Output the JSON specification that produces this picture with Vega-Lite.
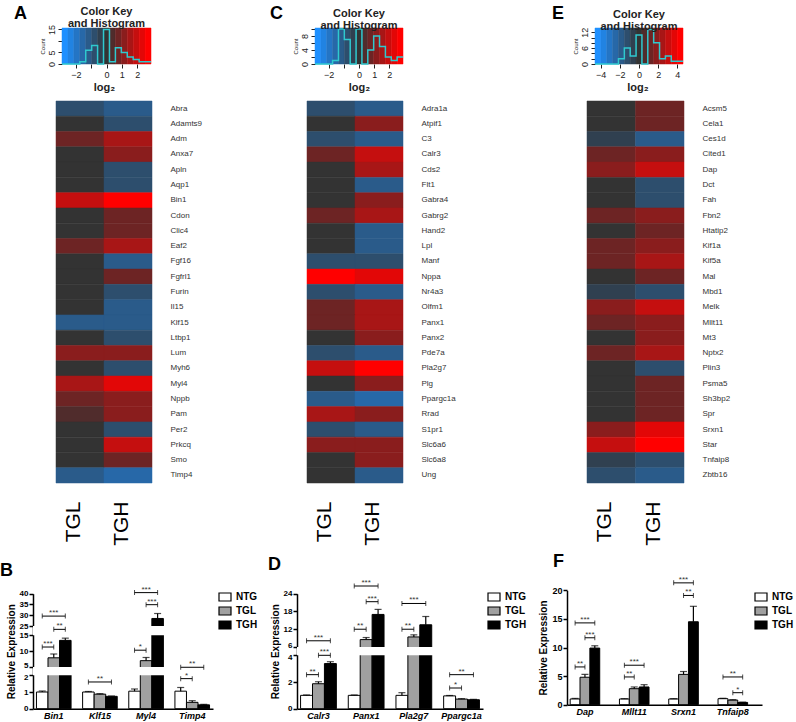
{
"$schema":"https://vega.github.io/schema/vega-lite/v6.json",
"padding":{"left":0,"top":4,"right":0,"bottom":0},
"background":"white",
"config":{"view":{"stroke":null},"font":"Liberation Sans","axis":{"grid":false,"labelOverlap":false}},
"datasets":{
"keyAC":[{"x0":-2.9,"x1":-2.513,"mid":-2.71},{"x0":-2.513,"x1":-2.127,"mid":-2.32},{"x0":-2.127,"x1":-1.74,"mid":-1.93},{"x0":-1.74,"x1":-1.353,"mid":-1.55},{"x0":-1.353,"x1":-0.967,"mid":-1.16},{"x0":-0.967,"x1":-0.58,"mid":-0.77},{"x0":-0.58,"x1":-0.193,"mid":-0.39},{"x0":-0.193,"x1":0.193,"mid":0},{"x0":0.193,"x1":0.58,"mid":0.39},{"x0":0.58,"x1":0.967,"mid":0.77},{"x0":0.967,"x1":1.353,"mid":1.16},{"x0":1.353,"x1":1.74,"mid":1.55},{"x0":1.74,"x1":2.127,"mid":1.93},{"x0":2.127,"x1":2.513,"mid":2.32},{"x0":2.513,"x1":2.9,"mid":2.71}],
"keyE":[{"x0":-4.6,"x1":-3.987,"mid":-4.29},{"x0":-3.987,"x1":-3.373,"mid":-3.68},{"x0":-3.373,"x1":-2.76,"mid":-3.07},{"x0":-2.76,"x1":-2.147,"mid":-2.45},{"x0":-2.147,"x1":-1.533,"mid":-1.84},{"x0":-1.533,"x1":-0.92,"mid":-1.23},{"x0":-0.92,"x1":-0.307,"mid":-0.61},{"x0":-0.307,"x1":0.307,"mid":0},{"x0":0.307,"x1":0.92,"mid":0.61},{"x0":0.92,"x1":1.533,"mid":1.23},{"x0":1.533,"x1":2.147,"mid":1.84},{"x0":2.147,"x1":2.76,"mid":2.45},{"x0":2.76,"x1":3.373,"mid":3.07},{"x0":3.373,"x1":3.987,"mid":3.68},{"x0":3.987,"x1":4.6,"mid":4.29}],
"histA":[{"x":-2.9,"n":0},{"x":-2.513,"n":0},{"x":-2.127,"n":0},{"x":-1.74,"n":1},{"x":-1.353,"n":6},{"x":-0.967,"n":8},{"x":-0.58,"n":0},{"x":-0.193,"n":15},{"x":0.193,"n":1},{"x":0.58,"n":7},{"x":0.967,"n":5},{"x":1.353,"n":3},{"x":1.74,"n":2},{"x":2.127,"n":1},{"x":2.513,"n":1},{"x":2.9,"n":1}],
"histC":[{"x":-2.9,"n":0},{"x":-2.513,"n":0},{"x":-2.127,"n":0},{"x":-1.74,"n":1},{"x":-1.353,"n":10},{"x":-0.967,"n":7},{"x":-0.58,"n":0},{"x":-0.193,"n":10},{"x":0.193,"n":0},{"x":0.58,"n":4},{"x":0.967,"n":8},{"x":1.353,"n":5},{"x":1.74,"n":2},{"x":2.127,"n":1},{"x":2.513,"n":2},{"x":2.9,"n":2}],
"histE":[{"x":-4.6,"n":0},{"x":-3.987,"n":0},{"x":-3.373,"n":0},{"x":-2.76,"n":0},{"x":-2.147,"n":2},{"x":-1.533,"n":6},{"x":-0.92,"n":3},{"x":-0.307,"n":11},{"x":0.307,"n":0},{"x":0.92,"n":13},{"x":1.533,"n":8},{"x":2.147,"n":2},{"x":2.76,"n":3},{"x":3.373,"n":1},{"x":3.987,"n":1},{"x":4.6,"n":1}],
"heatA":[{"gene":"Abra","group":"TGL","v":-0.77},{"gene":"Abra","group":"TGH","v":-1.16},{"gene":"Adamts9","group":"TGL","v":0},{"gene":"Adamts9","group":"TGH","v":-0.77},{"gene":"Adm","group":"TGL","v":0.77},{"gene":"Adm","group":"TGH","v":1.55},{"gene":"Anxa7","group":"TGL","v":0},{"gene":"Anxa7","group":"TGH","v":1.16},{"gene":"Apln","group":"TGL","v":0},{"gene":"Apln","group":"TGH","v":-0.77},{"gene":"Aqp1","group":"TGL","v":0},{"gene":"Aqp1","group":"TGH","v":-0.77},{"gene":"Bin1","group":"TGL","v":1.93},{"gene":"Bin1","group":"TGH","v":2.71},{"gene":"Cdon","group":"TGL","v":0},{"gene":"Cdon","group":"TGH","v":0.77},{"gene":"Clic4","group":"TGL","v":0},{"gene":"Clic4","group":"TGH","v":0.77},{"gene":"Eaf2","group":"TGL","v":0.77},{"gene":"Eaf2","group":"TGH","v":1.55},{"gene":"Fgf16","group":"TGL","v":0},{"gene":"Fgf16","group":"TGH","v":-1.16},{"gene":"Fgfrl1","group":"TGL","v":0},{"gene":"Fgfrl1","group":"TGH","v":0.77},{"gene":"Furin","group":"TGL","v":0},{"gene":"Furin","group":"TGH","v":-0.77},{"gene":"Il15","group":"TGL","v":0},{"gene":"Il15","group":"TGH","v":-1.16},{"gene":"Klf15","group":"TGL","v":-1.16},{"gene":"Klf15","group":"TGH","v":-1.16},{"gene":"Ltbp1","group":"TGL","v":0},{"gene":"Ltbp1","group":"TGH","v":-0.77},{"gene":"Lum","group":"TGL","v":1.16},{"gene":"Lum","group":"TGH","v":1.16},{"gene":"Myh6","group":"TGL","v":0},{"gene":"Myh6","group":"TGH","v":-0.77},{"gene":"Myl4","group":"TGL","v":1.55},{"gene":"Myl4","group":"TGH","v":2.32},{"gene":"Nppb","group":"TGL","v":0.77},{"gene":"Nppb","group":"TGH","v":1.16},{"gene":"Pam","group":"TGL","v":0.39},{"gene":"Pam","group":"TGH","v":1.16},{"gene":"Per2","group":"TGL","v":0},{"gene":"Per2","group":"TGH","v":-0.77},{"gene":"Prkcq","group":"TGL","v":0},{"gene":"Prkcq","group":"TGH","v":1.93},{"gene":"Smo","group":"TGL","v":0},{"gene":"Smo","group":"TGH","v":0.77},{"gene":"Timp4","group":"TGL","v":-1.16},{"gene":"Timp4","group":"TGH","v":-1.55}],
"heatC":[{"gene":"Adra1a","group":"TGL","v":-0.77},{"gene":"Adra1a","group":"TGH","v":-1.16},{"gene":"Atpif1","group":"TGL","v":0},{"gene":"Atpif1","group":"TGH","v":1.16},{"gene":"C3","group":"TGL","v":-0.77},{"gene":"C3","group":"TGH","v":-1.16},{"gene":"Calr3","group":"TGL","v":0.77},{"gene":"Calr3","group":"TGH","v":1.93},{"gene":"Cds2","group":"TGL","v":0},{"gene":"Cds2","group":"TGH","v":1.55},{"gene":"Flt1","group":"TGL","v":0},{"gene":"Flt1","group":"TGH","v":-1.16},{"gene":"Gabra4","group":"TGL","v":0},{"gene":"Gabra4","group":"TGH","v":1.16},{"gene":"Gabrg2","group":"TGL","v":0.77},{"gene":"Gabrg2","group":"TGH","v":1.55},{"gene":"Hand2","group":"TGL","v":0},{"gene":"Hand2","group":"TGH","v":-1.16},{"gene":"Lpl","group":"TGL","v":0},{"gene":"Lpl","group":"TGH","v":-1.16},{"gene":"Manf","group":"TGL","v":-0.77},{"gene":"Manf","group":"TGH","v":-0.77},{"gene":"Nppa","group":"TGL","v":2.71},{"gene":"Nppa","group":"TGH","v":2.32},{"gene":"Nr4a3","group":"TGL","v":-0.77},{"gene":"Nr4a3","group":"TGH","v":-1.16},{"gene":"Olfm1","group":"TGL","v":0.77},{"gene":"Olfm1","group":"TGH","v":1.55},{"gene":"Panx1","group":"TGL","v":0.77},{"gene":"Panx1","group":"TGH","v":1.55},{"gene":"Panx2","group":"TGL","v":0},{"gene":"Panx2","group":"TGH","v":1.16},{"gene":"Pde7a","group":"TGL","v":-0.77},{"gene":"Pde7a","group":"TGH","v":-1.16},{"gene":"Pla2g7","group":"TGL","v":1.93},{"gene":"Pla2g7","group":"TGH","v":2.71},{"gene":"Plg","group":"TGL","v":0},{"gene":"Plg","group":"TGH","v":1.16},{"gene":"Ppargc1a","group":"TGL","v":-1.16},{"gene":"Ppargc1a","group":"TGH","v":-1.55},{"gene":"Rrad","group":"TGL","v":1.55},{"gene":"Rrad","group":"TGH","v":1.16},{"gene":"S1pr1","group":"TGL","v":-0.77},{"gene":"S1pr1","group":"TGH","v":-1.16},{"gene":"Slc6a6","group":"TGL","v":1.16},{"gene":"Slc6a6","group":"TGH","v":1.16},{"gene":"Slc6a8","group":"TGL","v":0},{"gene":"Slc6a8","group":"TGH","v":1.16},{"gene":"Ung","group":"TGL","v":0},{"gene":"Ung","group":"TGH","v":-1.16}],
"heatE":[{"gene":"Acsm5","group":"TGL","v":0},{"gene":"Acsm5","group":"TGH","v":1.23},{"gene":"Cela1","group":"TGL","v":0},{"gene":"Cela1","group":"TGH","v":1.23},{"gene":"Ces1d","group":"TGL","v":-0.61},{"gene":"Ces1d","group":"TGH","v":-1.84},{"gene":"Cited1","group":"TGL","v":1.23},{"gene":"Cited1","group":"TGH","v":1.84},{"gene":"Dap","group":"TGL","v":1.84},{"gene":"Dap","group":"TGH","v":3.07},{"gene":"Dct","group":"TGL","v":0},{"gene":"Dct","group":"TGH","v":-1.23},{"gene":"Fah","group":"TGL","v":0},{"gene":"Fah","group":"TGH","v":-1.23},{"gene":"Fbn2","group":"TGL","v":1.23},{"gene":"Fbn2","group":"TGH","v":1.84},{"gene":"Htatip2","group":"TGL","v":0},{"gene":"Htatip2","group":"TGH","v":1.23},{"gene":"Kif1a","group":"TGL","v":1.23},{"gene":"Kif1a","group":"TGH","v":1.84},{"gene":"Kif5a","group":"TGL","v":1.23},{"gene":"Kif5a","group":"TGH","v":2.45},{"gene":"Mal","group":"TGL","v":0},{"gene":"Mal","group":"TGH","v":1.23},{"gene":"Mbd1","group":"TGL","v":-0.61},{"gene":"Mbd1","group":"TGH","v":-1.23},{"gene":"Melk","group":"TGL","v":1.84},{"gene":"Melk","group":"TGH","v":3.07},{"gene":"Mllt11","group":"TGL","v":1.23},{"gene":"Mllt11","group":"TGH","v":1.84},{"gene":"Mt3","group":"TGL","v":0},{"gene":"Mt3","group":"TGH","v":1.84},{"gene":"Nptx2","group":"TGL","v":1.23},{"gene":"Nptx2","group":"TGH","v":2.45},{"gene":"Plin3","group":"TGL","v":0},{"gene":"Plin3","group":"TGH","v":-1.23},{"gene":"Psma5","group":"TGL","v":0},{"gene":"Psma5","group":"TGH","v":1.23},{"gene":"Sh3bp2","group":"TGL","v":0},{"gene":"Sh3bp2","group":"TGH","v":1.23},{"gene":"Spr","group":"TGL","v":0},{"gene":"Spr","group":"TGH","v":1.23},{"gene":"Srxn1","group":"TGL","v":1.84},{"gene":"Srxn1","group":"TGH","v":3.68},{"gene":"Star","group":"TGL","v":3.07},{"gene":"Star","group":"TGH","v":4.29},{"gene":"Tnfaip8","group":"TGL","v":-0.61},{"gene":"Tnfaip8","group":"TGH","v":-1.23},{"gene":"Zbtb16","group":"TGL","v":-1.23},{"gene":"Zbtb16","group":"TGH","v":-1.84}],
"barsB":[{"slot":"Bin1|NTG","group":"NTG","value":1.0,"hi":1.06},{"slot":"Bin1|TGL","group":"TGL","value":7.9,"hi":9.1},{"slot":"Bin1|TGH","group":"TGH","value":13.4,"hi":14.1},{"slot":"Klf15|NTG","group":"NTG","value":1.0,"hi":1.03},{"slot":"Klf15|TGL","group":"TGL","value":0.87,"hi":0.9},{"slot":"Klf15|TGH","group":"TGH","value":0.74,"hi":0.76},{"slot":"Myl4|NTG","group":"NTG","value":1.05,"hi":1.18},{"slot":"Myl4|TGL","group":"TGL","value":7.0,"hi":8.0},{"slot":"Myl4|TGH","group":"TGH","value":28.5,"hi":30.8},{"slot":"Timp4|NTG","group":"NTG","value":1.05,"hi":1.27},{"slot":"Timp4|TGL","group":"TGL","value":0.38,"hi":0.48},{"slot":"Timp4|TGH","group":"TGH","value":0.23,"hi":0.26}],
"brB":[{"from":"Bin1|NTG","to":"Bin1|TGL","mid":"Bin1|TGL","span":1,"y":11.3,"label":"***"},{"from":"Bin1|TGL","to":"Bin1|TGH","mid":"Bin1|TGH","span":1,"y":21.4,"label":"**"},{"from":"Bin1|NTG","to":"Bin1|TGH","mid":"Bin1|TGL","span":2,"y":29.6,"label":"***"},{"from":"Klf15|NTG","to":"Klf15|TGH","mid":"Klf15|TGL","span":2,"y":1.6,"label":"**"},{"from":"Myl4|NTG","to":"Myl4|TGL","mid":"Myl4|TGL","span":1,"y":10.3,"label":"*"},{"from":"Myl4|TGL","to":"Myl4|TGH","mid":"Myl4|TGH","span":1,"y":34.9,"label":"***"},{"from":"Myl4|NTG","to":"Myl4|TGH","mid":"Myl4|TGL","span":2,"y":40.5,"label":"***"},{"from":"Timp4|NTG","to":"Timp4|TGL","mid":"Timp4|TGL","span":1,"y":1.8,"label":"*"},{"from":"Timp4|NTG","to":"Timp4|TGH","mid":"Timp4|TGL","span":2,"y":4.9,"label":"**"}],
"gapB":[{"lo":2,"hi":5},{"lo":15,"hi":25}],
"barsD":[{"slot":"Calr3|NTG","group":"NTG","value":1.0,"hi":1.03},{"slot":"Calr3|TGL","group":"TGL","value":1.87,"hi":2.02},{"slot":"Calr3|TGH","group":"TGH","value":3.38,"hi":3.52},{"slot":"Panx1|NTG","group":"NTG","value":1.0,"hi":1.03},{"slot":"Panx1|TGL","group":"TGL","value":8.5,"hi":9.2},{"slot":"Panx1|TGH","group":"TGH","value":17.0,"hi":18.7},{"slot":"Pla2g7|NTG","group":"NTG","value":1.0,"hi":1.2},{"slot":"Pla2g7|TGL","group":"TGL","value":9.4,"hi":10.1},{"slot":"Pla2g7|TGH","group":"TGH","value":13.5,"hi":16.3},{"slot":"Ppargc1a|NTG","group":"NTG","value":0.96,"hi":0.99},{"slot":"Ppargc1a|TGL","group":"TGL","value":0.72,"hi":0.75},{"slot":"Ppargc1a|TGH","group":"TGH","value":0.67,"hi":0.7}],
"brD":[{"from":"Calr3|NTG","to":"Calr3|TGL","mid":"Calr3|TGL","span":1,"y":2.55,"label":"**"},{"from":"Calr3|TGL","to":"Calr3|TGH","mid":"Calr3|TGH","span":1,"y":4.0,"label":"***"},{"from":"Calr3|NTG","to":"Calr3|TGH","mid":"Calr3|TGL","span":2,"y":8.1,"label":"***"},{"from":"Panx1|NTG","to":"Panx1|TGL","mid":"Panx1|TGL","span":1,"y":12,"label":"**"},{"from":"Panx1|TGL","to":"Panx1|TGH","mid":"Panx1|TGH","span":1,"y":21.3,"label":"***"},{"from":"Panx1|NTG","to":"Panx1|TGH","mid":"Panx1|TGL","span":2,"y":26.6,"label":"***"},{"from":"Pla2g7|NTG","to":"Pla2g7|TGL","mid":"Pla2g7|TGL","span":1,"y":12,"label":"**"},{"from":"Pla2g7|NTG","to":"Pla2g7|TGH","mid":"Pla2g7|TGL","span":2,"y":20.7,"label":"***"},{"from":"Ppargc1a|NTG","to":"Ppargc1a|TGL","mid":"Ppargc1a|TGL","span":1,"y":1.55,"label":"*"},{"from":"Ppargc1a|NTG","to":"Ppargc1a|TGH","mid":"Ppargc1a|TGL","span":2,"y":2.55,"label":"**"}],
"gapD":[{"lo":4,"hi":6}],
"barsF":[{"slot":"Dap|NTG","group":"NTG","value":1.0,"hi":1.1},{"slot":"Dap|TGL","group":"TGL","value":4.8,"hi":5.3},{"slot":"Dap|TGH","group":"TGH","value":9.9,"hi":10.3},{"slot":"Mllt11|NTG","group":"NTG","value":1.0,"hi":1.05},{"slot":"Mllt11|TGL","group":"TGL","value":2.8,"hi":3.1},{"slot":"Mllt11|TGH","group":"TGH","value":3.1,"hi":3.5},{"slot":"Srxn1|NTG","group":"NTG","value":1.0,"hi":1.05},{"slot":"Srxn1|TGL","group":"TGL","value":5.3,"hi":5.8},{"slot":"Srxn1|TGH","group":"TGH","value":14.5,"hi":17.2},{"slot":"Tnfaip8|NTG","group":"NTG","value":1.05,"hi":1.12},{"slot":"Tnfaip8|TGL","group":"TGL","value":0.8,"hi":0.88},{"slot":"Tnfaip8|TGH","group":"TGH","value":0.4,"hi":0.45}],
"brF":[{"from":"Dap|NTG","to":"Dap|TGL","mid":"Dap|TGL","span":1,"y":6.6,"label":"**"},{"from":"Dap|TGL","to":"Dap|TGH","mid":"Dap|TGH","span":1,"y":11.7,"label":"***"},{"from":"Dap|NTG","to":"Dap|TGH","mid":"Dap|TGL","span":2,"y":14.3,"label":"***"},{"from":"Mllt11|NTG","to":"Mllt11|TGL","mid":"Mllt11|TGL","span":1,"y":4.85,"label":"**"},{"from":"Mllt11|NTG","to":"Mllt11|TGH","mid":"Mllt11|TGL","span":2,"y":6.9,"label":"***"},{"from":"Srxn1|TGL","to":"Srxn1|TGH","mid":"Srxn1|TGH","span":1,"y":19.1,"label":"**"},{"from":"Srxn1|NTG","to":"Srxn1|TGH","mid":"Srxn1|TGL","span":2,"y":21.3,"label":"***"},{"from":"Tnfaip8|NTG","to":"Tnfaip8|TGH","mid":"Tnfaip8|TGL","span":2,"y":4.85,"label":"**"},{"from":"Tnfaip8|TGL","to":"Tnfaip8|TGH","mid":"Tnfaip8|TGH","span":1,"y":2.1,"label":"*"}]
},
"columns":3,
"align":"none",
"bounds":"flush",
"spacing":{"row":37,"column":84},
"resolve":{"scale":{"color":"independent","stroke":"independent","fill":"independent","x":"independent","y":"independent"},"legend":{"color":"independent","stroke":"independent","fill":"independent"}},
"concat":[
 {"width":180,"height":36,
  "title":{"text":["Color Key","and Histogram"],"fontSize":11,"fontWeight":"bold","anchor":"middle","frame":"group","dx":-16.5,"offset":-5,"lineHeight":12,"color":"#222"},
  "layer":[
   {"data":{"name":"keyAC"},"mark":{"type":"rect","strokeWidth":0.5},
    "encoding":{
     "x":{"field":"x0","type":"quantitative","scale":{"domain":[-2.9,2.9],"range":[29,118],"nice":false,"zero":false},
          "axis":{"values":[-2,-1,0,1,2],"tickCount":50,"format":"d","labelExpr":"datum.value==-1?'':datum.label","domain":false,"tickColor":"#222","tickSize":4,"labelFontSize":9,"labelColor":"#222","labelPadding":2,"title":"log₂","titleFontSize":11,"titleFontWeight":"bold","titleColor":"#222","titlePadding":2,"titleX":71}},
     "x2":{"field":"x1"},
     "color":{"field":"mid","type":"quantitative","scale":{"type":"threshold","domain":[-2.51,-2.13,-1.74,-1.35,-0.97,-0.58,-0.19,0.19,0.58,0.97,1.35,1.74,2.13,2.51],"range":["#1E90FF","#2183E2","#2475C5","#2768A8","#2A5B8A","#2D4E6D","#304050","#333333","#502C2C","#6D2424","#8A1D1D","#A81616","#C50F0F","#E20707","#FF0000"]},"legend":null},
     "stroke":{"field":"mid","type":"quantitative","scale":{"type":"threshold","domain":[-2.51,-2.13,-1.74,-1.35,-0.97,-0.58,-0.19,0.19,0.58,0.97,1.35,1.74,2.13,2.51],"range":["#1E90FF","#2183E2","#2475C5","#2768A8","#2A5B8A","#2D4E6D","#304050","#333333","#502C2C","#6D2424","#8A1D1D","#A81616","#C50F0F","#E20707","#FF0000"]},"legend":null}}},
   {"data":{"name":"histA"},"mark":{"type":"line","interpolate":"step-after","color":"#2fc9cf","strokeWidth":1.5},
    "encoding":{
     "x":{"field":"x","type":"quantitative","scale":{"domain":[-2.9,2.9],"range":[29,118],"nice":false,"zero":false}},
     "y":{"field":"n","type":"quantitative","scale":{"domain":[0,15.6],"nice":false,"zero":false},
          "axis":{"values":[0,5,10,15],"tickCount":50,"format":"d","labelExpr":"datum.value==10?'':datum.label","offset":-29,"labelAngle":-90,"labelFontSize":9,"labelColor":"#222","tickColor":"#222","tickSize":4,"domainColor":"#222","labelPadding":2,"title":"Count","titleFontSize":6,"titleFontWeight":"normal","titleColor":"#222","titlePadding":2}}}}
  ]},
 {"width":186,"height":36,
  "title":{"text":["Color Key","and Histogram"],"fontSize":11,"fontWeight":"bold","anchor":"middle","frame":"group","dx":-31,"offset":-5,"lineHeight":12,"color":"#222"},
  "layer":[
   {"data":{"name":"keyAC"},"mark":{"type":"rect","strokeWidth":0.5},
    "encoding":{
     "x":{"field":"x0","type":"quantitative","scale":{"domain":[-2.9,2.9],"range":[18,106],"nice":false,"zero":false},
          "axis":{"values":[-2,-1,0,1,2],"tickCount":50,"format":"d","labelExpr":"datum.value==-1?'':datum.label","domain":false,"tickColor":"#222","tickSize":4,"labelFontSize":9,"labelColor":"#222","labelPadding":2,"title":"log₂","titleFontSize":11,"titleFontWeight":"bold","titleColor":"#222","titlePadding":2,"titleX":62}},
     "x2":{"field":"x1"},
     "color":{"field":"mid","type":"quantitative","scale":{"type":"threshold","domain":[-2.51,-2.13,-1.74,-1.35,-0.97,-0.58,-0.19,0.19,0.58,0.97,1.35,1.74,2.13,2.51],"range":["#1E90FF","#2183E2","#2475C5","#2768A8","#2A5B8A","#2D4E6D","#304050","#333333","#502C2C","#6D2424","#8A1D1D","#A81616","#C50F0F","#E20707","#FF0000"]},"legend":null},
     "stroke":{"field":"mid","type":"quantitative","scale":{"type":"threshold","domain":[-2.51,-2.13,-1.74,-1.35,-0.97,-0.58,-0.19,0.19,0.58,0.97,1.35,1.74,2.13,2.51],"range":["#1E90FF","#2183E2","#2475C5","#2768A8","#2A5B8A","#2D4E6D","#304050","#333333","#502C2C","#6D2424","#8A1D1D","#A81616","#C50F0F","#E20707","#FF0000"]},"legend":null}}},
   {"data":{"name":"histC"},"mark":{"type":"line","interpolate":"step-after","color":"#2fc9cf","strokeWidth":1.5},
    "encoding":{
     "x":{"field":"x","type":"quantitative","scale":{"domain":[-2.9,2.9],"range":[18,106],"nice":false,"zero":false}},
     "y":{"field":"n","type":"quantitative","scale":{"domain":[0,10.25],"nice":false,"zero":false},
          "axis":{"values":[0,2,4,6,8,10],"tickCount":50,"format":"d","labelExpr":"datum.value%4==0?datum.label:''","offset":-18,"labelAngle":-90,"labelFontSize":9,"labelColor":"#222","tickColor":"#222","tickSize":4,"domainColor":"#222","labelPadding":2,"title":"Count","titleFontSize":6,"titleFontWeight":"normal","titleColor":"#222","titlePadding":2}}}}
  ]},
 {"width":117,"height":36,
  "title":{"text":["Color Key","and Histogram"],"fontSize":11,"fontWeight":"bold","anchor":"middle","frame":"group","dx":13.5,"offset":-5,"lineHeight":12,"color":"#222"},
  "layer":[
   {"data":{"name":"keyE"},"mark":{"type":"rect","strokeWidth":0.5},
    "encoding":{
     "x":{"field":"x0","type":"quantitative","scale":{"domain":[-4.6,4.6],"range":[28,116],"nice":false,"zero":false},
          "axis":{"values":[-4,-2,0,2,4],"tickCount":50,"format":"d","domain":false,"tickColor":"#222","tickSize":4,"labelFontSize":9,"labelColor":"#222","labelPadding":2,"title":"log₂","titleFontSize":11,"titleFontWeight":"bold","titleColor":"#222","titlePadding":2,"titleX":70.5}},
     "x2":{"field":"x1"},
     "color":{"field":"mid","type":"quantitative","scale":{"type":"threshold","domain":[-3.99,-3.37,-2.76,-2.15,-1.53,-0.92,-0.31,0.31,0.92,1.53,2.15,2.76,3.37,3.99],"range":["#1E90FF","#2183E2","#2475C5","#2768A8","#2A5B8A","#2D4E6D","#304050","#333333","#502C2C","#6D2424","#8A1D1D","#A81616","#C50F0F","#E20707","#FF0000"]},"legend":null},
     "stroke":{"field":"mid","type":"quantitative","scale":{"type":"threshold","domain":[-3.99,-3.37,-2.76,-2.15,-1.53,-0.92,-0.31,0.31,0.92,1.53,2.15,2.76,3.37,3.99],"range":["#1E90FF","#2183E2","#2475C5","#2768A8","#2A5B8A","#2D4E6D","#304050","#333333","#502C2C","#6D2424","#8A1D1D","#A81616","#C50F0F","#E20707","#FF0000"]},"legend":null}}},
   {"data":{"name":"histE"},"mark":{"type":"line","interpolate":"step-after","color":"#2fc9cf","strokeWidth":1.5},
    "encoding":{
     "x":{"field":"x","type":"quantitative","scale":{"domain":[-4.6,4.6],"range":[28,116],"nice":false,"zero":false}},
     "y":{"field":"n","type":"quantitative","scale":{"domain":[0,13.6],"nice":false,"zero":false},
          "axis":{"values":[0,2,4,6,8,10,12],"tickCount":50,"format":"d","labelExpr":"datum.value%6==0?datum.label:''","offset":-28,"labelAngle":-90,"labelFontSize":9,"labelColor":"#222","tickColor":"#222","tickSize":4,"domainColor":"#222","labelPadding":2,"title":"Count","titleFontSize":6,"titleFontWeight":"normal","titleColor":"#222","titlePadding":2}}}}
  ]},
 {"width":180,"height":452,"data":{"name":"heatA"},"mark":{"type":"rect","strokeWidth":0.5},
  "title":{"text":"A","anchor":"start","frame":"group","fontSize":18,"fontWeight":"bold","color":"black","dx":-19,"offset":78},
  "encoding":{
   "x":{"field":"group","type":"nominal","sort":["TGL","TGH"],"scale":{"range":[23,119],"paddingInner":0,"paddingOuter":0},"axis":{"orient":"bottom","offset":-70,"labelAngle":-90,"labelFontSize":21,"labelPadding":18,"labelBaseline":"alphabetic","ticks":false,"domain":false,"title":null,"labelColor":"black"}},
   "y":{"field":"gene","type":"nominal","sort":null,"scale":{"range":[0,382],"paddingInner":0,"paddingOuter":0},"axis":{"orient":"right","offset":-61,"ticks":false,"domain":false,"labelFontSize":8,"labelPadding":18,"labelColor":"#333","title":null}},
   "color":{"field":"v","type":"quantitative","scale":{"type":"threshold","domain":[-2.51,-2.13,-1.74,-1.35,-0.97,-0.58,-0.19,0.19,0.58,0.97,1.35,1.74,2.13,2.51],"range":["#1E90FF","#2183E2","#2475C5","#2768A8","#2A5B8A","#2D4E6D","#304050","#333333","#502C2C","#6D2424","#8A1D1D","#A81616","#C50F0F","#E20707","#FF0000"]},"legend":null},
   "stroke":{"field":"v","type":"quantitative","scale":{"type":"threshold","domain":[-2.51,-2.13,-1.74,-1.35,-0.97,-0.58,-0.19,0.19,0.58,0.97,1.35,1.74,2.13,2.51],"range":["#1E90FF","#2183E2","#2475C5","#2768A8","#2A5B8A","#2D4E6D","#304050","#333333","#502C2C","#6D2424","#8A1D1D","#A81616","#C50F0F","#E20707","#FF0000"]},"legend":null}}},
 {"width":186,"height":452,"data":{"name":"heatC"},"mark":{"type":"rect","strokeWidth":0.5},
  "title":{"text":"C","anchor":"start","frame":"group","fontSize":18,"fontWeight":"bold","color":"black","dx":-27,"offset":78},
  "encoding":{
   "x":{"field":"group","type":"nominal","sort":["TGL","TGH"],"scale":{"range":[10,106],"paddingInner":0,"paddingOuter":0},"axis":{"orient":"bottom","offset":-70,"labelAngle":-90,"labelFontSize":21,"labelPadding":18,"labelBaseline":"alphabetic","ticks":false,"domain":false,"title":null,"labelColor":"black"}},
   "y":{"field":"gene","type":"nominal","sort":null,"scale":{"range":[0,382],"paddingInner":0,"paddingOuter":0},"axis":{"orient":"right","offset":-80,"ticks":false,"domain":false,"labelFontSize":8,"labelPadding":18,"labelColor":"#333","title":null}},
   "color":{"field":"v","type":"quantitative","scale":{"type":"threshold","domain":[-2.51,-2.13,-1.74,-1.35,-0.97,-0.58,-0.19,0.19,0.58,0.97,1.35,1.74,2.13,2.51],"range":["#1E90FF","#2183E2","#2475C5","#2768A8","#2A5B8A","#2D4E6D","#304050","#333333","#502C2C","#6D2424","#8A1D1D","#A81616","#C50F0F","#E20707","#FF0000"]},"legend":null},
   "stroke":{"field":"v","type":"quantitative","scale":{"type":"threshold","domain":[-2.51,-2.13,-1.74,-1.35,-0.97,-0.58,-0.19,0.19,0.58,0.97,1.35,1.74,2.13,2.51],"range":["#1E90FF","#2183E2","#2475C5","#2768A8","#2A5B8A","#2D4E6D","#304050","#333333","#502C2C","#6D2424","#8A1D1D","#A81616","#C50F0F","#E20707","#FF0000"]},"legend":null}}},
 {"width":117,"height":452,"data":{"name":"heatE"},"mark":{"type":"rect","strokeWidth":0.5},
  "title":{"text":"E","anchor":"start","frame":"group","fontSize":18,"fontWeight":"bold","color":"black","dx":-15,"offset":78},
  "encoding":{
   "x":{"field":"group","type":"nominal","sort":["TGL","TGH"],"scale":{"range":[20,117],"paddingInner":0,"paddingOuter":0},"axis":{"orient":"bottom","offset":-70,"labelAngle":-90,"labelFontSize":21,"labelPadding":18,"labelBaseline":"alphabetic","ticks":false,"domain":false,"title":null,"labelColor":"black"}},
   "y":{"field":"gene","type":"nominal","sort":null,"scale":{"range":[0,382],"paddingInner":0,"paddingOuter":0},"axis":{"orient":"right","ticks":false,"domain":false,"labelFontSize":8,"labelPadding":18,"labelColor":"#333","title":null}},
   "color":{"field":"v","type":"quantitative","scale":{"type":"threshold","domain":[-3.99,-3.37,-2.76,-2.15,-1.53,-0.92,-0.31,0.31,0.92,1.53,2.15,2.76,3.37,3.99],"range":["#1E90FF","#2183E2","#2475C5","#2768A8","#2A5B8A","#2D4E6D","#304050","#333333","#502C2C","#6D2424","#8A1D1D","#A81616","#C50F0F","#E20707","#FF0000"]},"legend":null},
   "stroke":{"field":"v","type":"quantitative","scale":{"type":"threshold","domain":[-3.99,-3.37,-2.76,-2.15,-1.53,-0.92,-0.31,0.31,0.92,1.53,2.15,2.76,3.37,3.99],"range":["#1E90FF","#2183E2","#2475C5","#2768A8","#2A5B8A","#2D4E6D","#304050","#333333","#502C2C","#6D2424","#8A1D1D","#A81616","#C50F0F","#E20707","#FF0000"]},"legend":null}}},
 {"width":180,"height":118.7,
  "title":{"text":"B","anchor":"start","frame":"group","fontSize":18,"fontWeight":"bold","color":"black","dx":-33,"offset":6},
  "layer":[
   {"data":{"name":"barsB"},"mark":{"type":"bar","stroke":"black","strokeWidth":1},
    "encoding":{
     "x":{"field":"slot","type":"nominal","scale":{"domain":["Bin1|NTG","Bin1|TGL","Bin1|TGH","gap1","Klf15|NTG","Klf15|TGL","Klf15|TGH","gap2","Myl4|NTG","Myl4|TGL","Myl4|TGH","gap3","Timp4|NTG","Timp4|TGL","Timp4|TGH"],"paddingInner":0,"paddingOuter":0.3},
          "axis":{"title":null,"labelExpr":"indexof(datum.value,'|TGL')>=0 ? replace(datum.value,'|TGL','') : ''","labelAngle":0,"ticks":false,"labelFontSize":9,"labelFontWeight":"bold","labelFontStyle":"italic","labelColor":"black","labelPadding":3,"domainColor":"black","domainWidth":1.5,"labelOverlap":false,"zindex":0}},
     "y":{"field":"value","type":"quantitative","scale":{"domain":[0,2,5,15,25,40],"range":[118.7,85.3,77,45.3,36,3.7],"nice":false,"zero":false},
          "axis":{"values":[0,1,2,5,10,15,25,30,35,40],"tickCount":50,"format":"d","labelOverlap":false,"labelOffset":{"condition":[{"test":"datum.value==2","value":1.8},{"test":"datum.value==5","value":-1.8}],"value":0},"title":"Relative Expression","titleFontSize":10,"titleFontWeight":"bold","titleColor":"black","titlePadding":3,"labelFontSize":8,"labelFontWeight":"bold","labelColor":"black","labelPadding":1,"domainColor":"black","domainWidth":1.5,"tickColor":"black","tickWidth":1.5,"tickSize":4,"zindex":0}},
     "fill":{"field":"group","type":"nominal","scale":{"domain":["NTG","TGL","TGH"],"range":["#ffffff","#a0a0a0","#000000"]},
          "legend":{"title":null,"orient":"right","offset":5,"symbolType":"M-1,-0.667H1V0.667H-1Z","symbolSize":144,"symbolStrokeColor":"black","symbolStrokeWidth":1.2,"labelFontSize":10,"labelFontWeight":"bold","labelColor":"black","labelOffset":4,"rowPadding":0,"padding":0}}}},
   {"data":{"name":"gapB"},"mark":{"type":"rect","color":"white"},"encoding":{"y":{"field":"lo","type":"quantitative"},"y2":{"field":"hi"}}},
   {"data":{"name":"barsB"},"mark":{"type":"rule","strokeWidth":1.2,"color":"black"},"encoding":{"x":{"field":"slot","type":"nominal"},"y":{"field":"value","type":"quantitative"},"y2":{"field":"hi"}}},
   {"data":{"name":"barsB"},"mark":{"type":"tick","size":7,"thickness":1.2,"color":"black"},"encoding":{"x":{"field":"slot","type":"nominal"},"y":{"field":"hi","type":"quantitative"}}},
   {"data":{"name":"brB"},"mark":{"type":"rule","strokeWidth":1,"color":"black"},"encoding":{"x":{"field":"from","type":"nominal"},"x2":{"field":"to"},"y":{"field":"y","type":"quantitative"}}},
   {"data":{"name":"brB"},"mark":{"type":"tick","orient":"vertical","size":5,"thickness":1,"color":"black"},"encoding":{"x":{"field":"from","type":"nominal"},"y":{"field":"y","type":"quantitative"}}},
   {"data":{"name":"brB"},"mark":{"type":"tick","orient":"vertical","size":5,"thickness":1,"color":"black"},"encoding":{"x":{"field":"to","type":"nominal"},"y":{"field":"y","type":"quantitative"}}},
   {"data":{"name":"brB"},"transform":[{"filter":"datum.span==1"}],"mark":{"type":"text","fontSize":8,"baseline":"alphabetic","dy":-1,"color":"#333"},"encoding":{"x":{"field":"to","type":"nominal","bandPosition":0},"y":{"field":"y","type":"quantitative"},"text":{"field":"label","type":"nominal"}}},
   {"data":{"name":"brB"},"transform":[{"filter":"datum.span==2"}],"mark":{"type":"text","fontSize":8,"baseline":"alphabetic","dy":-1,"color":"#333"},"encoding":{"x":{"field":"mid","type":"nominal"},"y":{"field":"y","type":"quantitative"},"text":{"field":"label","type":"nominal"}}}
  ]},
 {"width":186,"height":118.7,
  "title":{"text":"D","anchor":"start","frame":"group","fontSize":18,"fontWeight":"bold","color":"black","dx":-29,"offset":5},
  "layer":[
   {"data":{"name":"barsD"},"mark":{"type":"bar","stroke":"black","strokeWidth":1},
    "encoding":{
     "x":{"field":"slot","type":"nominal","scale":{"domain":["Calr3|NTG","Calr3|TGL","Calr3|TGH","gap1","Panx1|NTG","Panx1|TGL","Panx1|TGH","gap2","Pla2g7|NTG","Pla2g7|TGL","Pla2g7|TGH","gap3","Ppargc1a|NTG","Ppargc1a|TGL","Ppargc1a|TGH"],"paddingInner":0,"paddingOuter":0.3},
          "axis":{"title":null,"labelExpr":"indexof(datum.value,'|TGL')>=0 ? replace(datum.value,'|TGL','') : ''","labelAngle":0,"ticks":false,"labelFontSize":9,"labelFontWeight":"bold","labelFontStyle":"italic","labelColor":"black","labelPadding":3,"domainColor":"black","domainWidth":1.5,"labelOverlap":false,"zindex":0}},
     "y":{"field":"value","type":"quantitative","scale":{"domain":[0,4,6,24],"range":[118.7,65.3,57,3.7],"nice":false,"zero":false},
          "axis":{"values":[0,2,4,6,12,18,24],"tickCount":50,"format":"d","labelOverlap":false,"labelOffset":{"condition":[{"test":"datum.value==4","value":1.8},{"test":"datum.value==6","value":-1.8}],"value":0},"title":"Relative Expression","titleFontSize":10,"titleFontWeight":"bold","titleColor":"black","titlePadding":3,"labelFontSize":8,"labelFontWeight":"bold","labelColor":"black","labelPadding":1,"domainColor":"black","domainWidth":1.5,"tickColor":"black","tickWidth":1.5,"tickSize":4,"zindex":0}},
     "fill":{"field":"group","type":"nominal","scale":{"domain":["NTG","TGL","TGH"],"range":["#ffffff","#a0a0a0","#000000"]},
          "legend":{"title":null,"orient":"right","offset":4,"symbolType":"M-1,-0.667H1V0.667H-1Z","symbolSize":144,"symbolStrokeColor":"black","symbolStrokeWidth":1.2,"labelFontSize":10,"labelFontWeight":"bold","labelColor":"black","labelOffset":4,"rowPadding":0,"padding":0}}}},
   {"data":{"name":"gapD"},"mark":{"type":"rect","color":"white"},"encoding":{"y":{"field":"lo","type":"quantitative"},"y2":{"field":"hi"}}},
   {"data":{"name":"barsD"},"mark":{"type":"rule","strokeWidth":1.2,"color":"black"},"encoding":{"x":{"field":"slot","type":"nominal"},"y":{"field":"value","type":"quantitative"},"y2":{"field":"hi"}}},
   {"data":{"name":"barsD"},"mark":{"type":"tick","size":7,"thickness":1.2,"color":"black"},"encoding":{"x":{"field":"slot","type":"nominal"},"y":{"field":"hi","type":"quantitative"}}},
   {"data":{"name":"brD"},"mark":{"type":"rule","strokeWidth":1,"color":"black"},"encoding":{"x":{"field":"from","type":"nominal"},"x2":{"field":"to"},"y":{"field":"y","type":"quantitative"}}},
   {"data":{"name":"brD"},"mark":{"type":"tick","orient":"vertical","size":5,"thickness":1,"color":"black"},"encoding":{"x":{"field":"from","type":"nominal"},"y":{"field":"y","type":"quantitative"}}},
   {"data":{"name":"brD"},"mark":{"type":"tick","orient":"vertical","size":5,"thickness":1,"color":"black"},"encoding":{"x":{"field":"to","type":"nominal"},"y":{"field":"y","type":"quantitative"}}},
   {"data":{"name":"brD"},"transform":[{"filter":"datum.span==1"}],"mark":{"type":"text","fontSize":8,"baseline":"alphabetic","dy":-1,"color":"#333"},"encoding":{"x":{"field":"to","type":"nominal","bandPosition":0},"y":{"field":"y","type":"quantitative"},"text":{"field":"label","type":"nominal"}}},
   {"data":{"name":"brD"},"transform":[{"filter":"datum.span==2"}],"mark":{"type":"text","fontSize":8,"baseline":"alphabetic","dy":-1,"color":"#333"},"encoding":{"x":{"field":"mid","type":"nominal"},"y":{"field":"y","type":"quantitative"},"text":{"field":"label","type":"nominal"}}}
  ]},
 {"width":195,"height":114.7,
  "title":{"text":"F","anchor":"start","frame":"group","fontSize":18,"fontWeight":"bold","color":"black","dx":-14,"offset":5},
  "layer":[
   {"data":{"name":"barsF"},"mark":{"type":"bar","stroke":"black","strokeWidth":1},
    "encoding":{
     "x":{"field":"slot","type":"nominal","scale":{"domain":["Dap|NTG","Dap|TGL","Dap|TGH","gap1a","gap1b","Mllt11|NTG","Mllt11|TGL","Mllt11|TGH","gap2a","gap2b","Srxn1|NTG","Srxn1|TGL","Srxn1|TGH","gap3a","gap3b","Tnfaip8|NTG","Tnfaip8|TGL","Tnfaip8|TGH"],"paddingInner":0,"paddingOuter":0.89,"align":0.18},
          "axis":{"title":null,"labelExpr":"indexof(datum.value,'|TGL')>=0 ? replace(datum.value,'|TGL','') : ''","labelAngle":0,"ticks":false,"labelFontSize":9,"labelFontWeight":"bold","labelFontStyle":"italic","labelColor":"black","labelPadding":3,"domainColor":"black","domainWidth":1.5,"labelOverlap":false,"zindex":0}},
     "y":{"field":"value","type":"quantitative","scale":{"domain":[0,20],"range":[114.7,0.3],"nice":false,"zero":false},
          "axis":{"values":[0,5,10,15,20],"tickCount":50,"format":"d","labelOverlap":false,"title":"Relative Expression","titleFontSize":10,"titleFontWeight":"bold","titleColor":"black","titlePadding":3,"labelFontSize":9,"labelFontWeight":"bold","labelColor":"black","labelPadding":1,"domainColor":"black","domainWidth":1.5,"tickColor":"black","tickWidth":1.5,"tickSize":4,"zindex":0}},
     "fill":{"field":"group","type":"nominal","scale":{"domain":["NTG","TGL","TGH"],"range":["#ffffff","#a0a0a0","#000000"]},
          "legend":{"title":null,"orient":"right","offset":-8,"symbolType":"M-1,-0.667H1V0.667H-1Z","symbolSize":144,"symbolStrokeColor":"black","symbolStrokeWidth":1.2,"labelFontSize":10,"labelFontWeight":"bold","labelColor":"black","labelOffset":4,"rowPadding":0,"padding":0}}}},
   {"data":{"name":"barsF"},"mark":{"type":"rule","strokeWidth":1.2,"color":"black"},"encoding":{"x":{"field":"slot","type":"nominal"},"y":{"field":"value","type":"quantitative"},"y2":{"field":"hi"}}},
   {"data":{"name":"barsF"},"mark":{"type":"tick","size":7,"thickness":1.2,"color":"black"},"encoding":{"x":{"field":"slot","type":"nominal"},"y":{"field":"hi","type":"quantitative"}}},
   {"data":{"name":"brF"},"mark":{"type":"rule","strokeWidth":1,"color":"black"},"encoding":{"x":{"field":"from","type":"nominal"},"x2":{"field":"to"},"y":{"field":"y","type":"quantitative"}}},
   {"data":{"name":"brF"},"mark":{"type":"tick","orient":"vertical","size":5,"thickness":1,"color":"black"},"encoding":{"x":{"field":"from","type":"nominal"},"y":{"field":"y","type":"quantitative"}}},
   {"data":{"name":"brF"},"mark":{"type":"tick","orient":"vertical","size":5,"thickness":1,"color":"black"},"encoding":{"x":{"field":"to","type":"nominal"},"y":{"field":"y","type":"quantitative"}}},
   {"data":{"name":"brF"},"transform":[{"filter":"datum.span==1"}],"mark":{"type":"text","fontSize":8,"baseline":"alphabetic","dy":-1,"color":"#333"},"encoding":{"x":{"field":"to","type":"nominal","bandPosition":0},"y":{"field":"y","type":"quantitative"},"text":{"field":"label","type":"nominal"}}},
   {"data":{"name":"brF"},"transform":[{"filter":"datum.span==2"}],"mark":{"type":"text","fontSize":8,"baseline":"alphabetic","dy":-1,"color":"#333"},"encoding":{"x":{"field":"mid","type":"nominal"},"y":{"field":"y","type":"quantitative"},"text":{"field":"label","type":"nominal"}}}
  ]}
]
}
